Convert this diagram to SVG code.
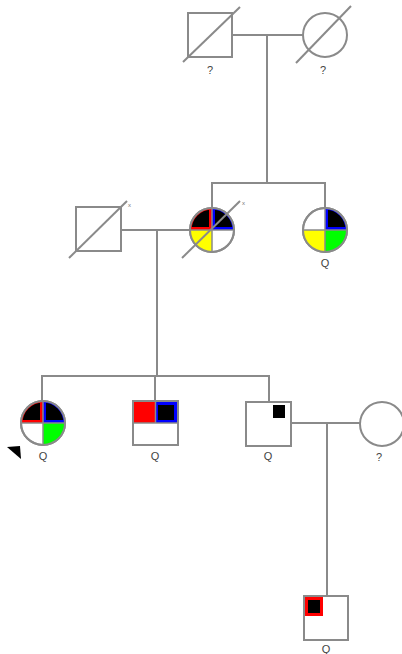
<svg xmlns="http://www.w3.org/2000/svg" width="402" height="654" viewBox="0 0 402 654">
  <style>
    .ln { stroke: #8a8a8a; stroke-width: 2; fill: none; }
    .sh { stroke: #8a8a8a; stroke-width: 2; fill: #fff; }
    .dv { stroke: #8a8a8a; stroke-width: 1.5; fill: none; }
    .lb { font-family: "Liberation Sans", Arial, sans-serif; font-size: 11px; fill: #444; text-anchor: middle; }
    .sm { font-family: "Liberation Sans", Arial, sans-serif; font-size: 6px; fill: #777; }
  </style>
  <defs>
    <!-- circle quadrants, radius 22, centred on the origin -->
    <path id="qTL" d="M0 0H-22A22 22 0 0 1 0 -22Z"/>
    <path id="qTR" d="M0 0V-22A22 22 0 0 1 22 0Z"/>
    <path id="qBR" d="M0 0H22A22 22 0 0 1 0 22Z"/>
    <path id="qBL" d="M0 0V22A22 22 0 0 1 -22 0Z"/>
    <clipPath id="inner"><circle r="20.5"/></clipPath>
  </defs>

  <!-- connectors -->
  <g id="connectors">
    <line class="ln" x1="232" y1="35" x2="303" y2="35"/>
    <line class="ln" x1="267" y1="35" x2="267" y2="183"/>
    <line class="ln" x1="211" y1="183" x2="326" y2="183"/>
    <line class="ln" x1="212" y1="183" x2="212" y2="208"/>
    <line class="ln" x1="325" y1="183" x2="325" y2="208"/>
    <line class="ln" x1="121" y1="230" x2="190" y2="230"/>
    <line class="ln" x1="157" y1="230" x2="157" y2="376"/>
    <line class="ln" x1="41" y1="376" x2="270" y2="376"/>
    <line class="ln" x1="42" y1="376" x2="42" y2="401"/>
    <line class="ln" x1="155" y1="376" x2="155" y2="401"/>
    <line class="ln" x1="269" y1="376" x2="269" y2="402"/>
    <line class="ln" x1="291" y1="423" x2="360" y2="423"/>
    <line class="ln" x1="327" y1="423" x2="327" y2="596"/>
  </g>

  <!-- generation I -->
  <g id="I-1">
    <rect class="sh" x="188" y="13" width="44" height="44"/>
    <line class="ln" x1="183" y1="62" x2="240" y2="7"/>
    <text class="lb" x="210" y="74">?</text>
  </g>
  <g id="I-2">
    <circle class="sh" cx="325" cy="35" r="22"/>
    <line class="ln" x1="296" y1="63" x2="351" y2="6"/>
    <text class="lb" x="323" y="74">?</text>
  </g>

  <!-- generation II -->
  <g id="II-1">
    <rect class="sh" x="76" y="207" width="45" height="44"/>
    <line class="ln" x1="69" y1="258" x2="127" y2="201"/>
    <text class="sm" x="128" y="207">x</text>
  </g>
  <g id="II-2" transform="translate(212 230)">
    <circle class="sh" r="22"/>
    <use href="#qTL" fill="#f00"/>
    <use href="#qTR" fill="#00f"/>
    <use href="#qBL" fill="#ff0"/>
    <g clip-path="url(#inner)">
      <rect x="-22" y="-22" width="19" height="19" fill="#000"/>
      <rect x="3" y="-22" width="19" height="19" fill="#000"/>
    </g>
    <circle r="22" class="ln"/>
    <line class="dv" x1="-22" y1="0" x2="22" y2="0"/>
    <line class="dv" x1="0" y1="-22" x2="0" y2="22"/>
    <line class="ln" x1="-30" y1="28" x2="28" y2="-29"/>
    <text class="sm" x="30" y="-25">x</text>
  </g>
  <g id="II-3" transform="translate(325 230)">
    <circle class="sh" r="22"/>
    <use href="#qTR" fill="#00f"/>
    <use href="#qBL" fill="#ff0"/>
    <use href="#qBR" fill="#0f0"/>
    <g clip-path="url(#inner)">
      <rect x="3" y="-22" width="19" height="19" fill="#000"/>
    </g>
    <circle r="22" class="ln"/>
    <line class="dv" x1="-22" y1="0" x2="22" y2="0"/>
    <line class="dv" x1="0" y1="-22" x2="0" y2="22"/>
    <text class="lb" x="0" y="37">Q</text>
  </g>

  <!-- generation III -->
  <g id="III-1">
    <g transform="translate(43 423)">
      <circle class="sh" r="22"/>
      <use href="#qTL" fill="#f00"/>
      <use href="#qTR" fill="#00f"/>
      <use href="#qBR" fill="#0f0"/>
      <g clip-path="url(#inner)">
        <rect x="-22" y="-22" width="19" height="19" fill="#000"/>
        <rect x="3" y="-22" width="19" height="19" fill="#000"/>
      </g>
      <circle r="22" class="ln"/>
      <line class="dv" x1="-22" y1="0" x2="22" y2="0"/>
      <line class="dv" x1="0" y1="-22" x2="0" y2="22"/>
      <text class="lb" x="0" y="37">Q</text>
    </g>
    <!-- proband arrow -->
    <polygon points="7,447 20,446 21,459" fill="#000"/>
  </g>
  <g id="III-2">
    <rect class="sh" x="133" y="401" width="45" height="44"/>
    <rect x="134" y="402" width="21" height="21" fill="#f00"/>
    <rect x="155" y="402" width="22" height="21" fill="#00f"/>
    <rect x="158" y="405" width="16" height="15" fill="#000"/>
    <line class="dv" x1="133" y1="423" x2="178" y2="423"/>
    <line class="dv" x1="155.5" y1="401" x2="155.5" y2="423"/>
    <rect class="ln" x="133" y="401" width="45" height="44"/>
    <text class="lb" x="155" y="460">Q</text>
  </g>
  <g id="III-3">
    <rect class="sh" x="246" y="402" width="45" height="44"/>
    <rect x="273" y="405" width="12" height="13" fill="#000"/>
    <text class="lb" x="268" y="460">Q</text>
  </g>
  <g id="III-4">
    <circle class="sh" cx="382" cy="424" r="22"/>
    <text class="lb" x="379" y="461">?</text>
  </g>

  <!-- generation IV -->
  <g id="IV-1">
    <rect class="sh" x="304" y="596" width="44" height="44"/>
    <rect x="305" y="597" width="18" height="19" fill="#f00"/>
    <rect x="308" y="600" width="12" height="13" fill="#000"/>
    <text class="lb" x="326" y="653">Q</text>
  </g>
</svg>
